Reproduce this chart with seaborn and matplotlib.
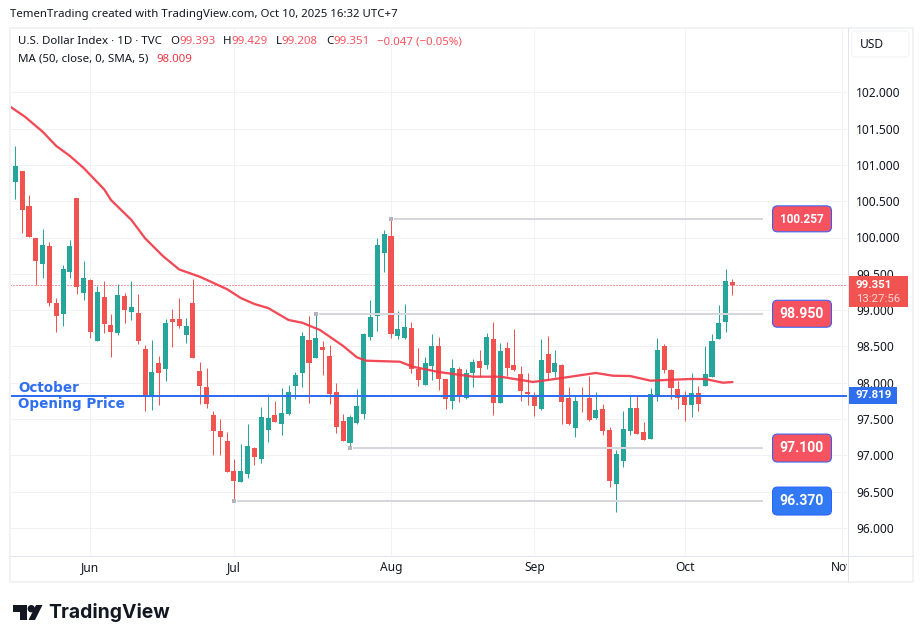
import matplotlib
matplotlib.use("Agg")
import matplotlib.pyplot as plt
from matplotlib.patches import FancyBboxPatch, Rectangle, Polygon, Circle
from matplotlib.transforms import Bbox
import numpy as np
import pandas as pd
import seaborn as sns

opens = [100.976,100.765,100.916,100.434,99.993,99.635,99.883,99.098,98.947,99.525,
         100.544,99.236,99.415,98.575,99.181,98.795,98.685,99.195,98.974,98.960,
         98.464,97.803,98.271,98.188,98.877,98.877,98.657,99.097,98.161,97.941,
         97.555,97.334,97.197,96.784,96.632,96.742,97.100,96.949,97.348,97.555,
         97.431,97.569,97.954,98.133,98.588,98.340,98.491,98.367,97.872,97.472,
         97.169,97.445,97.569,98.630,98.919,99.787,100.021,98.643,98.616,98.754,
         98.189,97.969,98.230,98.506,98.051,97.748,98.189,97.790,98.134,98.299,
         98.244,98.602,97.721,98.478,98.244,98.120,97.872,97.831,97.638,98.395,
         98.147,98.244,97.789,97.376,97.831,97.789,97.514,97.638,97.349,96.605,
         96.922,97.335,97.652,97.321,97.225,97.831,98.506,98.175,97.913,97.831,
         97.693,97.858,97.955,98.079,98.602,98.836,99.393]
highs = [100.976,101.261,100.916,100.586,99.993,100.117,99.938,99.167,99.622,99.966,
         100.544,99.677,99.429,99.332,99.401,98.947,99.360,99.236,99.401,99.221,
         98.519,98.588,98.367,98.877,99.015,99.166,98.891,99.428,98.285,98.202,
         97.610,97.500,97.321,96.949,97.155,97.431,97.114,97.665,97.844,97.748,
         97.927,97.968,98.147,98.698,98.918,98.950,98.574,98.519,97.996,97.569,
         97.555,97.913,98.684,99.139,99.993,100.103,100.257,98.988,99.084,98.836,
         98.478,98.354,98.671,98.630,98.051,98.327,98.217,98.189,98.327,98.451,
         98.685,98.836,98.547,98.561,98.740,98.230,98.134,97.872,98.602,98.643,
         98.450,98.258,97.941,97.831,97.941,98.092,97.872,97.707,97.390,97.073,
         97.610,97.831,97.831,97.459,97.927,98.616,98.533,98.189,98.023,97.886,
         98.134,97.955,98.506,98.671,99.070,99.566,99.429]
lows = [100.792,100.531,100.062,100.007,99.351,99.443,99.057,98.699,98.781,99.443,
        99.222,99.140,98.616,98.575,98.685,98.358,98.657,98.823,98.864,98.533,
        97.610,97.624,97.693,98.023,98.491,98.753,98.547,98.340,97.706,97.651,
        97.004,97.004,96.770,96.370,96.632,96.687,96.866,96.894,97.183,97.459,
        97.279,97.555,97.775,97.941,97.720,98.340,98.106,97.706,97.307,97.197,
        97.100,97.431,97.500,98.588,98.712,99.525,98.616,98.602,98.602,98.129,
        97.955,97.969,98.038,97.900,97.638,97.638,97.735,97.776,97.941,98.079,
        98.189,97.556,97.721,98.093,98.162,97.748,97.693,97.542,97.624,98.037,
        98.079,97.431,97.417,97.252,97.597,97.473,97.500,97.280,96.563,96.219,
        96.839,97.280,97.293,97.211,97.225,97.748,98.134,97.776,97.638,97.473,
        97.528,97.610,97.955,98.079,98.602,98.698,99.208]
closes = [100.792,100.985,100.379,100.007,99.677,99.897,99.098,98.919,99.567,99.883,
          99.319,99.443,98.699,99.250,98.809,98.699,99.208,99.002,99.043,98.574,
          97.830,98.147,98.133,98.822,98.836,98.781,98.781,98.340,97.954,97.706,
          97.334,97.252,96.770,96.646,96.784,97.128,96.976,97.527,97.514,97.459,
          97.582,97.872,98.106,98.643,98.271,98.615,98.450,97.844,97.390,97.197,
          97.527,97.679,98.670,98.905,99.897,100.048,98.671,98.740,98.768,98.189,
          98.038,98.272,98.506,98.051,97.776,98.203,97.817,98.134,98.285,98.203,
          98.630,97.721,98.437,98.203,98.175,97.886,97.845,97.679,98.313,98.134,
          98.271,97.734,97.431,97.748,97.803,97.486,97.624,97.335,96.646,97.018,
          97.362,97.652,97.293,97.211,97.844,98.450,98.175,97.927,97.789,97.693,
          97.858,97.707,98.120,98.574,98.822,99.401,99.351]

ma_bars = [0,2.4,5,7,9,11,14,15,18,20,22.6,25,28,32,34,36,38,41,43,45.6,49,51,52.4,
           57.3,59.2,63,68,72,76.8,80,86,88.5,91,94,99.8,102,104.6,106]
ma_values = [101.818,101.664,101.457,101.260,101.123,100.957,100.664,100.517,100.241,99.989,
             99.745,99.559,99.460,99.288,99.167,99.084,99.029,98.864,98.826,98.726,98.506,
             98.350,98.303,98.289,98.220,98.147,98.083,98.083,98.010,98.051,98.134,98.096,
             98.092,98.028,98.051,98.051,98.000,98.009]

month_bars = [12,33,56,77,99,122]
month_labels = ["Jun","Jul","Aug","Sep","Oct","Nov"]
price_ticks = [96.0,96.5,97.0,97.5,98.0,98.5,99.0,99.5,100.0,100.5,101.0,101.5,102.0]

level_values = [100.257,98.950,97.100,96.370]
level_labels = ["100.257","98.950","97.100","96.370"]
level_start_bars = [56,45,50,33]
level_fills = ["#F7525F","#F7525F","#F7525F","#3179F5"]
level_font_px = [11.8,14,14,14]
level_heights = [26,27,28,28]
last_price = 99.351
october_open = 97.819

RED, GREEN, BLUE = "#F05350", "#26A69A", "#2E6FF0"
MA_RED, GRID, EDGE = "#F23645", "#F1F2F4", "#E0E3EB"
FONT = "Noto Sans"

sns.set_theme(style="white")
plt.rcParams["font.family"] = [FONT, "DejaVu Sans"]
px = 72 / 100.0

W, H = 923, 643
fig = plt.figure(figsize=(W / 100, H / 100), dpi=100, facecolor="white")
L, R, T, B = 10, 847, 30, 555
ax = fig.add_axes([L / W, 1 - B / H, (R - L) / W, (B - T) / H])
bar0, bar_w = 8.5, 6.83
ax.set_xlim((L - bar0) / bar_w, (R - bar0) / bar_w)
y100, y_scale = 237.5, 72.6
ax.set_ylim(100 - (B - y100) / y_scale, 100 + (y100 - T) / y_scale)


def y_px(p):
    return y100 + (100 - p) * y_scale


df = pd.DataFrame({"o": opens, "h": highs, "l": lows, "c": closes})
df["bar"] = np.arange(len(df))
colors = [RED if c < o else GREEN for o, c in zip(df.o, df.c)]
ax.vlines(df.bar, df.l, df.h, colors=colors, lw=1 * px, zorder=3)
ax.bar(df.bar, (df.c - df.o).abs(), bottom=df[["o", "c"]].min(axis=1), width=0.74,
       color=colors, lw=0, zorder=4)

ma = pd.DataFrame({"bar": ma_bars, "ma": ma_values})
sns.lineplot(data=ma, x="bar", y="ma", ax=ax, color=MA_RED, lw=2.3 * px, alpha=0.9, zorder=5,
             errorbar=None, estimator=None)
ax.set_xlabel("")
ax.set_ylabel("")

ax.axhline(last_price, color=MA_RED, lw=1 * px, ls=(0, (1, 2)), zorder=2)
ax.axhline(october_open, color=BLUE, lw=2 * px, zorder=6)
end_bar = (763 - bar0) / bar_w
for v, s in zip(level_values, level_start_bars):
    ax.plot([s + 0.45, end_bar], [v, v], color="#D6D6DC", lw=2 * px, zorder=6, solid_capstyle="butt")
    ax.plot([s], [v], marker="s", ms=4 * px, color="#B2B5BE", mew=0, zorder=6)

ax.set_xticks(month_bars, month_labels)
ax.set_yticks(price_ticks, [f"{t:.3f}" for t in price_ticks])
ax.yaxis.tick_right()
ax.grid(True, color=GRID, lw=1 * px)
ax.set_axisbelow(True)
ax.tick_params(axis="x", length=0, pad=4.5, labelsize=12 * px, labelcolor="#131722")
ax.tick_params(axis="y", length=0, pad=6.5, labelsize=12 * px, labelcolor="#131722")
for s in ax.spines.values():
    s.set_visible(False)
for lab in ax.get_yticklabels():
    lab.set_verticalalignment("center_baseline")
nov = ax.get_xticklabels()[-1]
nov.set_clip_on(True)
nov.set_clip_box(Bbox([[0, 0], [R, H]]))

ov = fig.add_axes([0, 0, 1, 1], zorder=10)
ov.set_xlim(0, W)
ov.set_ylim(H, 0)
ov.axis("off")
ov.patch.set_alpha(0)
ov.add_patch(Rectangle((10, 27.5), 903, 554.5, fill=False, ec=GRID, lw=2 * px))
ov.plot([847.5, 847.5], [28, 582], color=EDGE, lw=1 * px)
ov.plot([10, 913], [555.5, 555.5], color=EDGE, lw=1 * px)

for v, lab, f, fs, h in zip(level_values, level_labels, level_fills, level_font_px, level_heights):
    yc = y_px(v)
    ov.add_patch(FancyBboxPatch((772.5 + 4, yc - h / 2 + 4), 59 - 8, h - 8,
                                boxstyle="round,pad=4,rounding_size=5", fc=f, ec="#2962FF", lw=1 * px))
    ov.text(802, yc + 0.2, lab, color="white", fontsize=fs * px, fontweight="bold",
            family="Roboto", ha="center", va="center")

ov.add_patch(Rectangle((848, 276), 60, 31, fc=RED, ec="none"))
ov.text(856, 284.5, f"{last_price:.3f}", color="white", fontsize=11.5 * px, fontweight="bold",
        family="Roboto", va="center")
ov.text(856, 298.5, "13:27:56", color="#FFD5D5", fontsize=11.5 * px, family="Roboto", va="center")
ov.add_patch(Rectangle((848, 387), 49, 17, fc=BLUE, ec="none"))
ov.text(856, 395.5, f"{october_open:.3f}", color="white", fontsize=11.5 * px, fontweight="bold",
        family="Roboto", va="center")

ov.add_patch(FancyBboxPatch((855.5, 35), 49.5, 18, boxstyle="round,pad=4,rounding_size=4",
                            fc="white", ec=GRID, lw=1 * px))
ov.text(860, 44.5, "USD", color="#131722", fontsize=12 * px, va="center")

ov.text(18, 388, "October", color=BLUE, fontsize=13.5 * px, fontweight="bold",
        family="DejaVu Sans", va="center")
ov.text(18, 404, "Opening Price", color=BLUE, fontsize=13.5 * px, fontweight="bold",
        family="DejaVu Sans", va="center")

ov.text(10, 14.5, "TemenTrading created with TradingView.com, Oct 10, 2025 16:32 UTC+7",
        color="#131722", fontsize=11.4 * px, va="center")


def run(x, y, parts):
    r = fig.canvas.get_renderer()
    for txt, col, gap in parts:
        t = ov.text(x, y, txt, color=col, fontsize=11.5 * px, va="center")
        x += t.get_window_extent(r).width + gap


DK, VAL = "#131722", "#F7525F"
run(18, 42, [("U.S. Dollar Index · 1D · TVC", DK, 8), ("O", DK, 0), ("99.393", VAL, 8),
             ("H", DK, 0), ("99.429", VAL, 8), ("L", DK, 0), ("99.208", VAL, 8),
             ("C", DK, 0), ("99.351", VAL, 8), ("−0.047 (−0.05%)", VAL, 0)])
run(18, 59, [("MA (50, close, 0, SMA, 5)", DK, 8), ("98.009", MA_RED, 0)])

LOGO = "#131722"
ov.add_patch(Polygon([(12.5, 605), (27, 605), (27, 620), (19.5, 620), (19.5, 612), (12.5, 612)], fc=LOGO, ec="none"))
ov.add_patch(Circle((31.3, 608.7), 3.7, fc=LOGO, ec="none"))
ov.add_patch(Polygon([(36, 605), (42.5, 605), (35, 620), (28.5, 620)], fc=LOGO, ec="none"))
ov.text(48.5, 612.5, "TradingView", color=LOGO, fontsize=19.4 * px, fontweight="bold",
        family="Inter", va="center")

fig.savefig("out.png", dpi=100)
